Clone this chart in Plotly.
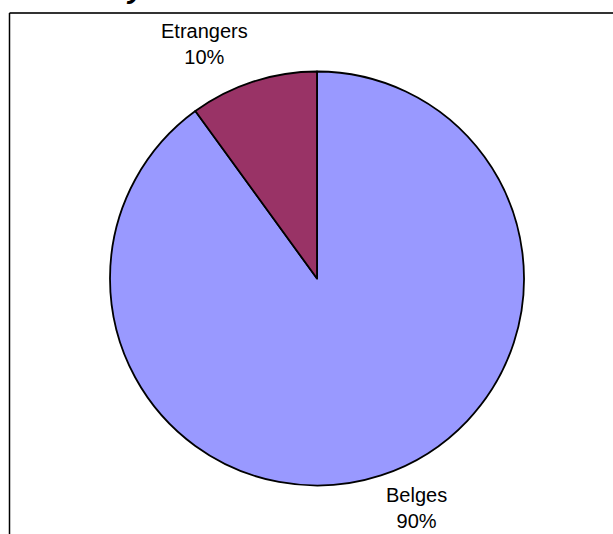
import plotly.graph_objects as go

labels = ["Belges", "Etrangers"]
values = [90, 10]
colors = ["#9999FF", "#993366"]

W, H = 613, 534
total = sum(values)
pcts = [round(v * 100 / total) for v in values]

cx, cy, r = 317, 278.5, 207

fig = go.Figure(go.Pie(
    labels=labels,
    values=values,
    sort=False,
    direction="clockwise",
    rotation=0,
    textinfo="none",
    hoverinfo="label+percent",
    marker=dict(colors=colors, line=dict(color="black", width=1.8)),
    domain=dict(x=[(cx - r) / W, (cx + r) / W], y=[(H - cy - r) / H, (H - cy + r) / H]),
    showlegend=False,
))

label_pos = {"Etrangers": (204, 44), "Belges": (416, 508)}
annotations = []
for lab, p in zip(labels, pcts):
    px, py = label_pos[lab]
    annotations.append(dict(
        text=f"{lab}<br>{p}%", x=px / W, y=1 - py / H, xref="paper", yref="paper",
        showarrow=False, xanchor="center", yanchor="middle",
        font=dict(family="Liberation Sans, Arial", size=20, color="black"),
    ))
# cropped title fragment at very top
annotations.append(dict(
    text="<b><i>y</i></b>", x=136 / W, y=1 + 13 / H, xref="paper", yref="paper",
    showarrow=False, xanchor="center", yanchor="middle",
    font=dict(family="Liberation Sans, Arial", size=30, color="black"),
))

fig.update_layout(
    width=W, height=H,
    margin=dict(l=0, r=0, t=0, b=0),
    paper_bgcolor="white",
    plot_bgcolor="white",
    annotations=annotations,
    shapes=[
        dict(type="line", xref="paper", yref="paper", x0=9.5 / W, x1=1.05, y0=1 - 13 / H, y1=1 - 13 / H,
             line=dict(color="#333333", width=2)),
        dict(type="line", xref="paper", yref="paper", x0=9.5 / W, x1=9.5 / W, y0=1 - 13 / H, y1=-0.05,
             line=dict(color="black", width=1.5)),
    ],
)

fig.write_html("out.html", config={"displayModeBar": False},
               post_script="document.body.style.margin='0';document.body.style.overflow='hidden';")
